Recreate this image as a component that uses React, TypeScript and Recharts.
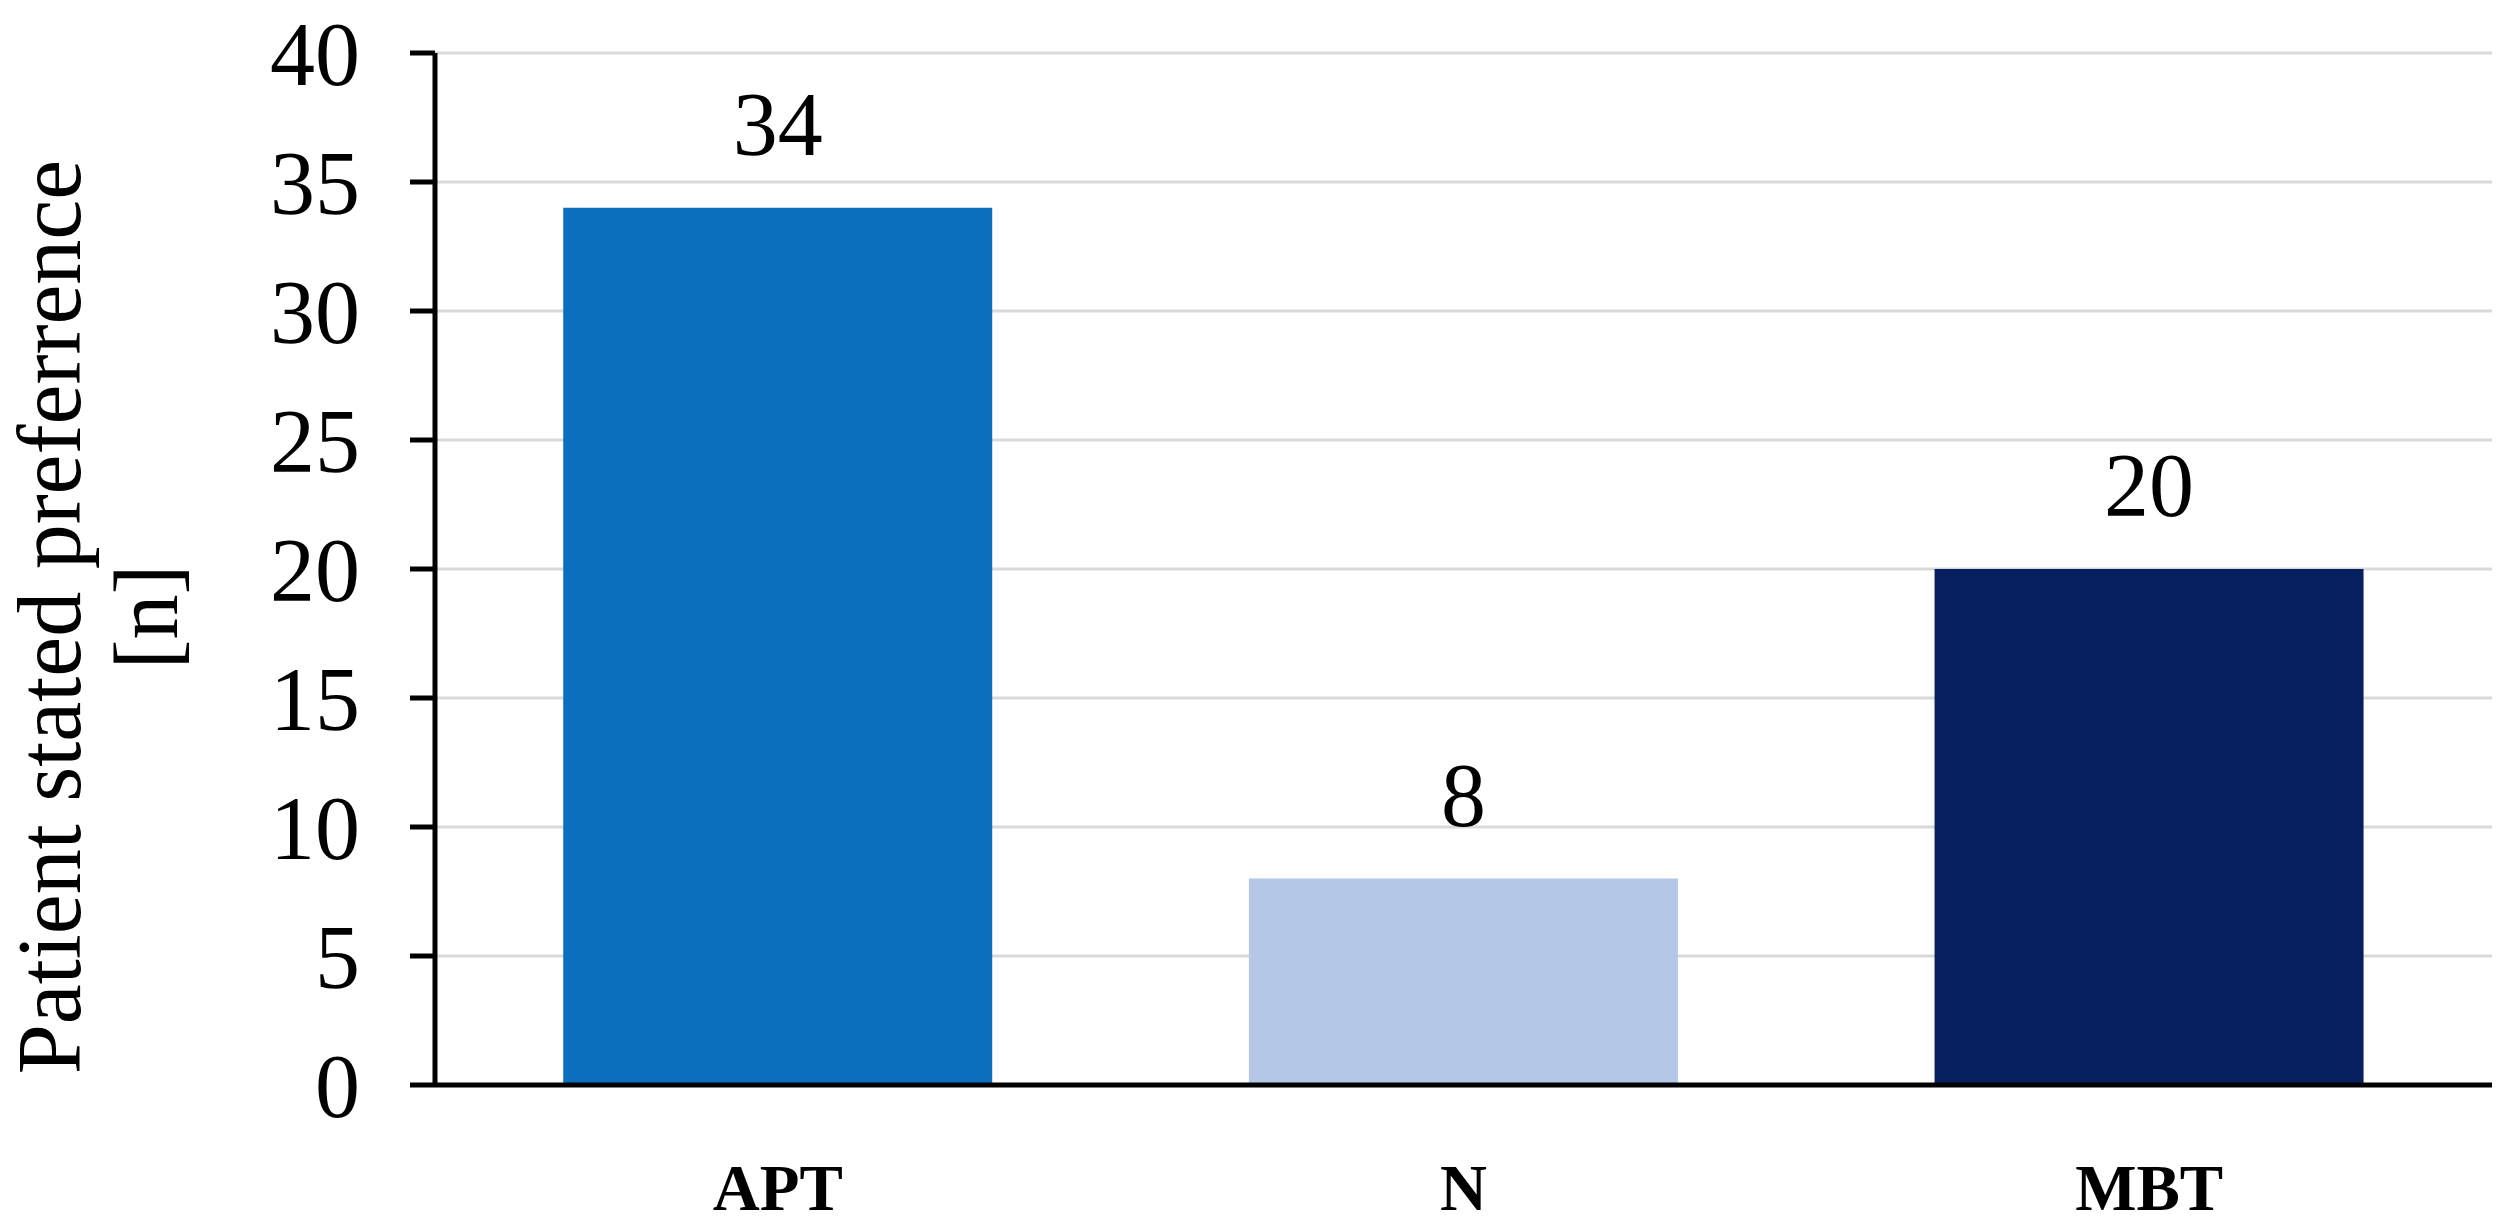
import { BarChart, Bar, XAxis, YAxis, CartesianGrid, Cell, LabelList } from 'recharts'

const categories = ['APT', 'N', 'MBT']
const counts = [34, 8, 20]
const barColors = ['#0B6FBF', '#B4C7E7', '#061F5F']
const yTicks = [0, 5, 10, 15, 20, 25, 30, 35, 40]

const data = categories.map((name, i) => ({ name, value: counts[i] }))

const serif = '"Liberation Serif", "Times New Roman", serif'

// two-line rotated axis title, sits a bit below the plot centre like the original
function YLabel() {
  const cy = 617
  const x1 = 80
  const x2 = 177
  return (
    <g>
      <text
        x={x1}
        y={cy}
        transform={`rotate(-90, ${x1}, ${cy})`}
        textAnchor="middle"
        fontFamily={serif}
        fontSize={90}
        fill="#000"
      >
        Patient stated preferrence
      </text>
      <text
        x={x2}
        y={cy}
        transform={`rotate(-90, ${x2}, ${cy})`}
        textAnchor="middle"
        fontFamily={serif}
        fontSize={90}
        fill="#000"
      >
        [n]
      </text>
    </g>
  )
}

export default function App() {
  return (
    <div style={{ position: 'absolute', left: 0, top: 0, background: '#fff' }}>
      <BarChart
        width={2508}
        height={1232}
        data={data}
        margin={{ top: 53, right: 16, bottom: 0, left: 0 }}
        barCategoryGap="18.7%"
      >
        <CartesianGrid vertical={false} stroke="#D9D9D9" strokeWidth={3} />
        <XAxis
          dataKey="name"
          height={147}
          axisLine={{ stroke: '#000', strokeWidth: 5 }}
          tickLine={false}
          tickSize={0}
          tickMargin={79}
          tick={{ fill: '#000', fontFamily: serif, fontSize: 65, fontWeight: 'bold' }}
        />
        <YAxis
          width={435}
          domain={[0, 40]}
          ticks={yTicks}
          interval={0}
          axisLine={{ stroke: '#000', strokeWidth: 5 }}
          tickLine={{ stroke: '#000', strokeWidth: 5 }}
          tickSize={25}
          tickMargin={50}
          tick={{ fill: '#000', fontFamily: serif, fontSize: 90 }}
          label={<YLabel />}
        />
        <Bar dataKey="value" isAnimationActive={false}>
          {data.map((d, i) => (
            <Cell key={d.name} fill={barColors[i]} />
          ))}
          <LabelList
            dataKey="value"
            position="top"
            offset={53}
            fill="#000"
            fontFamily={serif}
            fontSize={90}
          />
        </Bar>
      </BarChart>
    </div>
  )
}
